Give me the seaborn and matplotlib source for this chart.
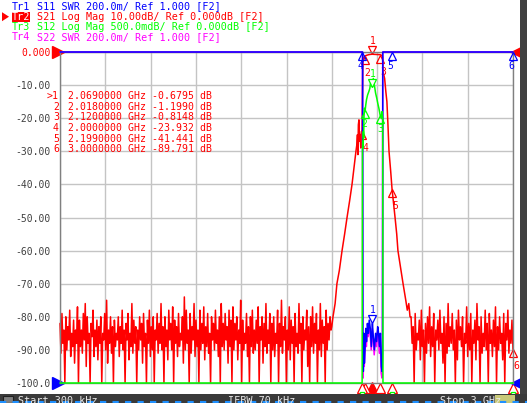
import numpy as np
import matplotlib
matplotlib.use("Agg")
import matplotlib.pyplot as plt
import seaborn as sns
from matplotlib.transforms import offset_copy
from matplotlib.patches import Rectangle, Polygon
from matplotlib.lines import Line2D

# Sweep / axis setup (VNA screen)
f_start, f_stop = 0.0003, 3.0          # GHz
s21_ylim = (-100, 0)                   # Tr2 Log Mag 10 dB/div, ref 0 at top
swr_ylim = (1.0, 3.0)                  # Tr1/Tr4 SWR 200m/div, ref 1.000 at bottom
s12_ylim = (-5.0, 0.0)                 # Tr3 Log Mag 500 mdB/div, ref 0 at top

# Tr2 S21 - noise floor below the passband (sweep points are evenly spaced)
s21_noise_lo_f = np.linspace(0.0003, 1.795, 280)
s21_noise_lo = [
    -82, -91, -79, -88, -84, -100, -80, -90, -83, -87, -78, -92, -85, -89, -81, -94, -84, -88, -77, -100,
    -81, -89, -84, -91, -79, -87, -76, -95, -80, -88, -85, -100, -82, -86, -78, -92, -84, -89, -81, -93,
    -83, -88, -80, -100, -85, -87, -79, -90, -75, -94, -84, -88, -80, -91, -83, -100, -81, -89, -85, -87,
    -80, -92, -83, -88, -78, -90, -84, -100, -82, -87, -79, -93, -85, -89, -76, -91, -81, -88, -83, -100,
    -84, -90, -80, -87, -82, -94, -79, -89, -85, -100, -81, -88, -78, -92, -83, -90, -80, -100, -84, -87,
    -79, -91, -82, -88, -76, -90, -83, -100, -80, -89, -84, -93, -78, -87, -82, -90, -77, -100, -81, -88,
    -83, -92, -79, -89, -85, -87, -80, -94, -74, -90, -78, -88, -84, -100, -79, -91, -83, -87, -76, -92,
    -81, -89, -84, -100, -78, -90, -82, -88, -77, -93, -83, -89, -79, -91, -85, -100, -80, -87, -82, -90,
    -78, -88, -84, -92, -80, -100, -76, -89, -82, -90, -79, -87, -83, -94, -78, -89, -81, -100, -77, -90,
    -82, -87, -80, -93, -84, -88, -75, -100, -81, -90, -85, -88, -79, -92, -83, -100, -80, -89, -78, -91,
    -84, -90, -81, -88, -77, -100, -83, -87, -80, -94, -82, -89, -76, -91, -84, -88, -79, -100, -82, -90,
    -80, -92, -85, -88, -78, -100, -82, -89, -75, -91, -83, -87, -80, -100, -84, -90, -77, -93, -81, -88,
    -83, -100, -79, -89, -85, -91, -76, -88, -82, -100, -80, -90, -84, -87, -78, -95, -83, -100, -80, -89,
    -77, -91, -82, -88, -79, -100, -84, -90, -76, -92, -81, -88, -83, -100, -78, -90, -82, -87, -80, -84,
]
# Tr2 S21 - skirts and passband
s21_band_f = [1.800, 1.808, 1.815, 1.822, 1.834, 1.850, 1.868, 1.885, 1.901, 1.918, 1.934, 1.947,
              1.960, 1.966, 1.970, 1.973, 1.976, 1.980, 1.984, 1.988, 1.992, 1.996, 2.000, 2.003,
              2.006, 2.010, 2.018, 2.030, 2.045, 2.060, 2.069, 2.080, 2.095, 2.110, 2.120, 2.130,
              2.136, 2.140, 2.150, 2.158, 2.165, 2.172, 2.179, 2.190, 2.199, 2.210, 2.219, 2.230,
              2.238, 2.255, 2.272, 2.290, 2.300, 2.310, 2.318]
s21_band = [-83, -80, -78, -76, -70, -66, -60, -55, -50, -45, -40, -35,
            -30, -28, -25, -31, -22, -20.5, -27, -25, -29, -24, -23.9, -12,
            -3, -1.8, -1.2, -1.0, -0.8, -0.7, -0.68, -0.7, -0.75, -0.8, -0.81, -1.0,
            -1.5, -6, -8, -12, -15, -22, -30, -36, -41.4, -46, -50, -55,
            -60, -65, -70, -75, -78, -76, -80]
# Tr2 S21 - noise floor above the passband
s21_noise_hi_f = np.linspace(2.325, 3.0, 100)
s21_noise_hi = [
    -80, -88, -83, -100, -79, -90, -85, -87, -81, -93, -78, -89, -84, -100, -82, -91, -80, -88, -77, -92,
    -83, -89, -79, -100, -84, -87, -81, -90, -78, -88, -85, -94, -80, -100, -82, -91, -76, -89, -83, -88,
    -79, -90, -84, -100, -81, -93, -78, -87, -83, -89, -80, -100, -85, -88, -77, -92, -82, -90, -79, -100,
    -84, -88, -81, -93, -76, -87, -83, -100, -80, -91, -85, -89, -78, -90, -82, -100, -79, -88, -84, -92,
    -81, -89, -77, -100, -83, -90, -80, -88, -85, -93, -79, -100, -82, -87, -78, -91, -84, -88, -81, -89.8,
]

# Tr1 S11 SWR (clipped at 3.000 on screen outside the passband)
s11_f = [0.0003, 2.004, 2.006, 2.009, 2.012, 2.016, 2.020, 2.025, 2.030, 2.036, 2.042, 2.048, 2.055, 2.062,
         2.069, 2.075, 2.082, 2.090, 2.097, 2.104, 2.110, 2.116, 2.122, 2.128, 2.133, 2.136, 2.138, 3.0]
s11_swr = [3.0, 3.0, 1.25, 1.07, 1.30, 1.12, 1.20, 1.33, 1.25, 1.36, 1.30, 1.38, 1.33, 1.22,
           1.36, 1.28, 1.20, 1.30, 1.25, 1.34, 1.30, 1.22, 1.30, 1.10, 1.07, 1.18, 3.0, 3.0]
# Tr4 S22 SWR
s22_f = [0.0003, 2.003, 2.005, 2.008, 2.011, 2.015, 2.019, 2.024, 2.029, 2.035, 2.041, 2.047, 2.054, 2.061,
         2.068, 2.074, 2.081, 2.089, 2.096, 2.103, 2.109, 2.115, 2.121, 2.127, 2.132, 2.135, 2.137, 3.0]
s22_swr = [3.0, 3.0, 1.20, 1.03, 1.25, 1.10, 1.18, 1.30, 1.22, 1.33, 1.28, 1.35, 1.30, 1.20,
           1.33, 1.25, 1.17, 1.27, 1.22, 1.31, 1.27, 1.18, 1.26, 1.06, 1.03, 1.12, 3.0, 3.0]
# Tr3 S12 Log Mag (clipped at -5 dB on screen outside the passband)
s12_f = [0.0003, 2.001, 2.003, 2.005, 2.007, 2.009, 2.011, 2.013, 2.016, 2.020, 2.025, 2.030, 2.037, 2.045,
         2.052, 2.058, 2.064, 2.069, 2.075, 2.082, 2.090, 2.098, 2.105, 2.112, 2.120, 2.127, 2.133, 2.137,
         2.139, 3.0]
s12_db = [-5, -5, -1.5, -1.35, -1.45, -1.2, -1.3, -1.0, -0.85, -0.9, -0.8, -0.72, -0.65, -0.6,
          -0.55, -0.45, -0.42, -0.53, -0.4, -0.5, -0.62, -0.7, -0.78, -0.85, -0.95, -1.0, -0.9, -1.0,
          -5, -5]

# Marker table (active trace Tr2)
marker_ids = ["1", "2", "3", "4", "5", "6"]
marker_f = [2.069, 2.018, 2.120, 2.000, 2.199, 3.000]
marker_s21 = [-0.6795, -1.199, -0.8148, -23.932, -41.441, -89.791]

y_ticks = list(range(-100, 1, 10))
y_ticklabels = ["-100.0", "-90.00", "-80.00", "-70.00", "-60.00", "-50.00",
                "-40.00", "-30.00", "-20.00", "-10.00", "0.000"]

header_lines = [
    ("Tr1", "S11 SWR 200.0m/ Ref 1.000 [F2]", "#0000ff"),
    ("Tr2", "S21 Log Mag 10.00dB/ Ref 0.000dB [F2]", "#ff0000"),
    ("Tr3", "S12 Log Mag 500.0mdB/ Ref 0.000dB [F2]", "#00ff00"),
    ("Tr4", "S22 SWR 200.0m/ Ref 1.000 [F2]", "#ff00ff"),
]

RED, BLUE, GREEN, MAG = "#ff0000", "#0000ff", "#00ff00", "#ff00ff"

# ---------------------------------------------------------------
sns.set_style("white")
plt.rcParams["font.family"] = ["DejaVu Sans Mono"]

W, H = 527, 403
fig = plt.figure(figsize=(W / 100, H / 100), dpi=100)
fig.patch.set_facecolor("white")


def px(x, y):
    return x / W, 1 - y / H


ax = fig.add_axes([60 / W, 20 / H, 453 / W, 331 / H])
ax_swr = ax.twinx()
ax_s12 = ax.twinx()

ax.set_xlim(f_start, f_stop)
ax.set_ylim(*s21_ylim)
ax_swr.set_ylim(*swr_ylim)
ax_s12.set_ylim(*s12_ylim)

ax.set_xticks(np.linspace(f_start, f_stop, 11))
ax.set_yticks(y_ticks)
ax.set_yticklabels(y_ticklabels)
ax.tick_params(axis="x", length=0, labelbottom=False)
ax.tick_params(axis="y", length=0, pad=6.5, labelsize=7, labelcolor="#404040")
for lab in ax.get_yticklabels():
    if lab.get_text() == "0.000":
        lab.set_color(RED)
ax.grid(True, color="#c4c4c4", lw=1)
for sp in ax.spines.values():
    sp.set_color("#808080")
    sp.set_linewidth(1)
for a in (ax_swr, ax_s12):
    a.set_yticks([])
    for sp in a.spines.values():
        sp.set_visible(False)

# traces
s21_f = np.concatenate([s21_noise_lo_f, s21_band_f, s21_noise_hi_f])
s21_db = np.concatenate([s21_noise_lo, s21_band, s21_noise_hi])
sns.lineplot(x=s21_f, y=s21_db, ax=ax, color=RED, lw=1.1, sort=False, estimator=None, clip_on=False)
sns.lineplot(x=s22_f, y=s22_swr, ax=ax_swr, color=MAG, lw=1.1, sort=False, estimator=None, clip_on=False)
sns.lineplot(x=s11_f, y=s11_swr, ax=ax_swr, color=BLUE, lw=1.1, sort=False, estimator=None, clip_on=False)
sns.lineplot(x=s12_f, y=s12_db, ax=ax_s12, color=GREEN, lw=1.1, sort=False, estimator=None, clip_on=False)
for a in (ax, ax_swr, ax_s12):
    a.set_xlim(f_start, f_stop)
    a.set_xlabel("")
    a.set_ylabel("")


# trace markers: active one drawn above with label above, others below
def put_markers(axis, tf, tv, ids, color, lab_dx=0, lab_dy=-14):
    up_tri = offset_copy(axis.transData, fig=fig, x=0, y=4, units="dots")
    up_lab = offset_copy(axis.transData, fig=fig, x=0, y=13, units="dots")
    dn_tri = offset_copy(axis.transData, fig=fig, x=0, y=-4, units="dots")
    dn_lab = offset_copy(axis.transData, fig=fig, x=lab_dx, y=lab_dy, units="dots")
    for mid in ids:
        i = marker_ids.index(mid)
        f = marker_f[i]
        v = np.interp(f, tf, tv)
        if mid == "1":
            axis.plot([f], [v], marker="v", ms=6, mfc="white", mec=color, mew=0.9,
                      transform=up_tri, clip_on=False)
            axis.text(f, v, mid, color=color, fontsize=7, ha="center", va="center",
                      transform=up_lab, clip_on=False)
        else:
            axis.plot([f], [v], marker="^", ms=6, mfc="none", mec=color, mew=0.9,
                      transform=dn_tri, clip_on=False)
            axis.text(f, v, mid, color=color, fontsize=7, ha="center", va="center",
                      transform=dn_lab, clip_on=False)


put_markers(ax, s21_f, s21_db, ["2", "3", "4", "5", "6", "1"], RED, lab_dx=3, lab_dy=-17)
put_markers(ax_swr, s11_f, s11_swr, ["4", "5", "6", "1"], BLUE, lab_dx=-2)
put_markers(ax_s12, s12_f, s12_db, ["2", "3", "1"], GREEN)

# marker position indicators under the grid
below = offset_copy(ax.transData, fig=fig, x=0, y=-5, units="dots")
below2 = offset_copy(ax.transData, fig=fig, x=0, y=-11, units="dots")
for mid, f in zip(marker_ids, marker_f):
    filled = mid == "1"
    ax.plot([f], [-100], marker="^", ms=8 if filled else 7, mfc=RED if filled else "white",
            mec=RED, mew=0.9, transform=below, clip_on=False)
for f in [marker_f[3], marker_f[4], marker_f[5]]:
    ax.plot([f], [-100], marker="s", ms=3.5, mfc="white", mec=GREEN, mew=0.9,
            transform=below2, clip_on=False)

# reference level arrows on both edges
left_t = offset_copy(ax.transData, fig=fig, x=-2, y=0, units="dots")
right_t = offset_copy(ax.transData, fig=fig, x=4, y=0, units="dots")
ax.plot([f_start], [0], marker=">", ms=8, color=RED, transform=left_t, clip_on=False)
ax.plot([f_start], [-100], marker=">", ms=8, color=BLUE, transform=left_t, clip_on=False)
ax.plot([f_stop], [0], marker="<", ms=8, color=RED, transform=right_t, clip_on=False)
ax.plot([f_stop], [-100], marker="<", ms=8, color=BLUE, transform=right_t, clip_on=False)

# header lines
for k, (tr, rest, col) in enumerate(header_lines):
    yy = 6.5 + 10.2 * k
    if tr == "Tr2":
        fig.patches.append(Rectangle(px(12, yy + 5), 18 / W, 10 / H, transform=fig.transFigure,
                                     facecolor=RED, edgecolor="none"))
        fig.patches.append(Polygon([px(2, yy - 4.5), px(9, yy), px(2, yy + 4.5)], closed=True,
                                   transform=fig.transFigure, facecolor=RED, edgecolor="none"))
        fig.text(*px(12, yy), tr, color="white", fontsize=7.3, va="center", ha="left")
    else:
        fig.text(*px(12, yy), tr, color=col, fontsize=7.3, va="center", ha="left")
    fig.text(*px(37, yy), rest, color=col, fontsize=7.3, va="center", ha="left")

# marker readout table
for k, (mid, f, v) in enumerate(zip(marker_ids, marker_f, marker_s21)):
    yy = 96 + 10.7 * k
    dec = 5 - len(str(int(abs(v))))
    label = (">" + mid) if k == 0 else mid
    fig.text(*px(59, yy), label, color=RED, fontsize=7.1, va="center", ha="right")
    fig.text(*px(68, yy), f"{f:.7f} GHz {v:.{dec}f} dB", color=RED, fontsize=7.1,
             va="center", ha="left")

# screen frame: right scroll strip and bottom status bar
fig.patches.append(Rectangle(px(520, 394), 7 / W, 394 / H, transform=fig.transFigure,
                             facecolor="#404040", edgecolor="none"))
fig.patches.append(Rectangle((0, 0), 1, 9 / H, transform=fig.transFigure,
                             facecolor="#3a3a3a", edgecolor="none"))
fig.patches.append(Rectangle(px(3, 403), 10 / W, 7 / H, transform=fig.transFigure,
                             facecolor="#808080", edgecolor="#202020", lw=0.8))
fig.patches.append(Rectangle(px(495, 403), 20 / W, 8 / H, transform=fig.transFigure,
                             facecolor="#c8c878", edgecolor="none"))
for x0, s in [(18, "Start 300 kHz"), (228, "IFBW 70 kHz"), (440, "Stop 3 GHz")]:
    fig.text(*px(x0, 396), s, color="#e8e8e8", fontsize=7.3, va="top", ha="left")
fig.lines.append(Line2D([0, 1], [1 - 402 / H] * 2, transform=fig.transFigure,
                        color="#1e90ff", lw=1.5, dashes=(3, 3)))

fig.savefig("out.png", dpi=100)
